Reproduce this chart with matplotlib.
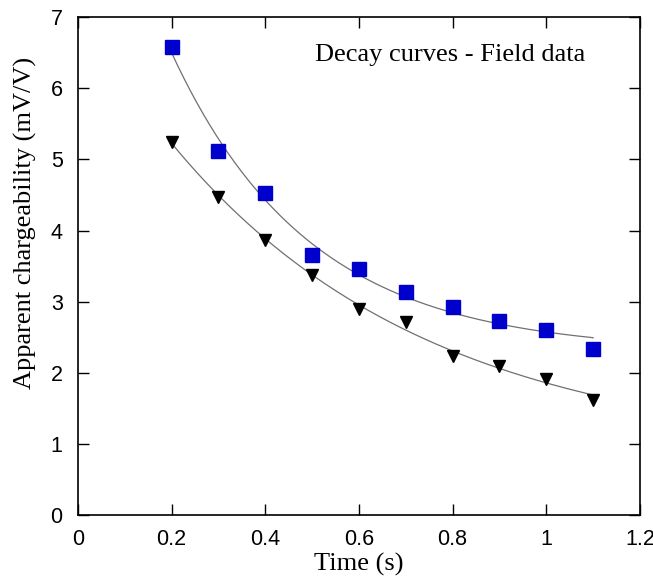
import matplotlib
matplotlib.use("Agg")
import matplotlib.pyplot as plt
import numpy as np

# data
time_s = [0.2, 0.3, 0.4, 0.5, 0.6, 0.7, 0.8, 0.9, 1.0, 1.1]
upper = [6.58, 5.12, 4.53, 3.66, 3.46, 3.13, 2.93, 2.73, 2.60, 2.33]
lower = [5.25, 4.47, 3.87, 3.38, 2.90, 2.71, 2.23, 2.10, 1.92, 1.62]

xticks = [0, 0.2, 0.4, 0.6, 0.8, 1.0, 1.2]
xticklabels = ["0", "0.2", "0.4", "0.6", "0.8", "1", "1.2"]
yticks = [0, 1, 2, 3, 4, 5, 6, 7]


def fit_decay(x, y):
    # y = a*exp(-b*x) + c, grid search on b, least squares for a, c
    x = np.array(x)
    y = np.array(y)
    best = None
    for b in np.linspace(0.1, 10, 500):
        A = np.column_stack([np.exp(-b * x), np.ones_like(x)])
        coef, res, _, _ = np.linalg.lstsq(A, y, rcond=None)
        err = np.sum((A @ coef - y) ** 2)
        if best is None or err < best[0]:
            best = (err, b, coef)
    _, b, (a, c) = best
    return lambda t: a * np.exp(-b * t) + c


fig = plt.figure(figsize=(6.53, 5.84), dpi=100)
ax = fig.add_axes([0.1194, 0.118, 0.8606, 0.8527])

tt = np.linspace(0.2, 1.1, 200)
f_up = fit_decay(time_s, upper)
f_lo = fit_decay(time_s, lower)
ax.plot(tt, f_up(tt), color="#707070", lw=0.9, zorder=1)
ax.plot(tt, f_lo(tt), color="#707070", lw=0.9, zorder=1)

ax.plot(time_s, upper, ls="none", marker="s", ms=9.5, color="#0000cc", zorder=2)
ax.plot(time_s, lower, ls="none", marker="v", ms=9, color="black", zorder=2)

ax.set_xlim(0, 1.2)
ax.set_ylim(0, 7)
ax.set_xticks(xticks)
ax.set_xticklabels(xticklabels)
ax.set_yticks(yticks)
ax.tick_params(direction="in", length=8, width=1, top=True, right=True,
               labelsize=15.5)
ax.tick_params(axis="x", pad=10)
ax.tick_params(axis="y", pad=11)
for lab in ax.get_xticklabels() + ax.get_yticklabels():
    lab.set_family("Liberation Sans")
for sp in ax.spines.values():
    sp.set_linewidth(1.2)

ax.set_xlabel("Time (s)", family="Liberation Serif", fontsize=19, labelpad=2)
ax.set_ylabel("Apparent chargeability (mV/V)", family="Liberation Serif",
              fontsize=19)
ax.yaxis.set_label_coords(-0.073, 0.586)
ax.text(0.902, 0.924, "Decay curves - Field data", transform=ax.transAxes,
        ha="right", va="center", family="Liberation Serif", fontsize=19)

fig.savefig("out.png", dpi=100)
